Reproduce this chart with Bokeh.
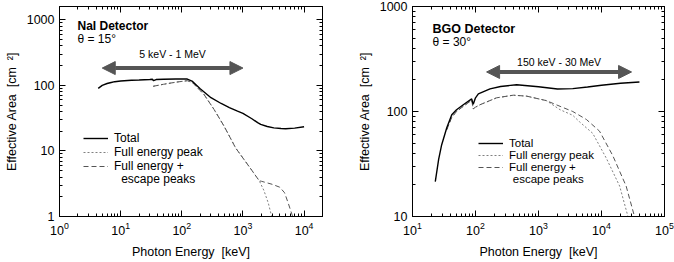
import math
from bokeh.plotting import figure
from bokeh.models import (LogAxis, FixedTicker, CustomJSTickFormatter, LogTickFormatter, Label,
                          Legend, LegendItem, Arrow, NormalHead, Range1d)
from bokeh.layouts import row
from bokeh.embed import file_html
from bokeh.resources import INLINE

FONT = "Liberation Sans"

# ---------------- NaI detector (theta = 15 deg) ----------------
nai_total_E = [4.3, 5, 6, 7, 8, 10, 15, 20, 30, 33, 34.5, 38, 50, 80, 123, 150, 200, 300,
               440, 600, 815, 1000, 1400, 1740, 1950, 2500, 3200, 4200, 5000, 7000, 10000]
nai_total_A = [90, 100, 107, 111, 114, 117, 120, 121, 123, 124, 118, 123, 124, 125, 125, 115,
               89, 65, 53, 46, 40.5, 37.5, 31, 27, 25.4, 23.6, 22.5, 22, 21.8, 22.3, 23.4]
nai_full_E = [34, 50, 80, 123, 150, 230, 337, 490, 760, 1000, 1350, 1850, 2200, 2600, 2950]
nai_full_A = [97, 104, 112, 118, 110, 73, 43, 24, 11.1, 7.8, 5.3, 3.5, 2.5, 1.6, 1.0]
nai_esc_E = [34, 50, 80, 123, 150, 230, 337, 490, 760, 1000, 1350, 1850, 2000, 3000, 4000,
             4800, 5500, 6500]
nai_esc_A = [97, 104, 112, 118, 110, 73, 43, 24, 11.1, 7.8, 5.3, 3.5, 3.45, 3.1, 2.8, 2.3,
             1.6, 1.0]
nai_range_E = [5, 1000]          # "5 keV - 1 MeV"
nai_range_label = "5 keV - 1 MeV"

# ---------------- BGO detector (theta = 30 deg) ----------------
bgo_total_E = [23, 26, 29, 35, 42, 50, 64, 87, 92, 100, 111, 170, 250, 450, 1000, 2000,
               3500, 6000, 10000, 20000, 40000]
bgo_total_A = [21.5, 35, 48, 70, 93, 104, 116, 132, 117, 135, 147, 164, 173, 180, 172, 164,
               165, 171, 178, 186, 191]
bgo_esc_E = [35, 42, 50, 64, 87, 92, 100, 118, 216, 398, 650, 1330, 2200, 3500, 5750, 9300,
             15100, 24600, 33400]
bgo_esc_A = [67, 88, 100, 112, 128, 106, 110, 116, 135, 143, 140, 127, 112, 100, 84, 65, 38,
             19.5, 10]
bgo_full_E = [35, 42, 50, 64, 87, 92, 100, 118, 216, 398, 650, 1330, 2200, 3500, 4450, 7250,
              11900, 19400, 26300]
bgo_full_A = [67, 88, 100, 112, 128, 106, 110, 116, 135, 143, 140, 127, 104, 92, 80, 62, 36,
              19.5, 10]
bgo_range_E = [150, 30000]       # "150 keV - 30 MeV"
bgo_range_label = "150 keV - 30 MeV"

legend_labels = ["Total", "Full energy peak", "Full energy +"]
legend_extra = "escape peaks"
x_label = "Photon Energy\u00a0 [keV]"
y_label = "Effective Area\u00a0 [cm\u00a0 \u00b2]"

INT_JS = "return String(Math.round(tick));"
BLANK_JS = 'return "";'


def decade_ticker(lo, hi):
    majors = [10.0 ** e for e in range(lo, hi + 1)]
    minors = [m * 10.0 ** e for e in range(lo, hi + 1) for m in range(2, 10)]
    return FixedTicker(ticks=majors, minor_ticks=minors)


def style_axis(ax, ticker, formatter, label=None, labels=True):
    ax.ticker = ticker
    ax.formatter = formatter
    ax.major_tick_in = 6
    ax.major_tick_out = 0
    ax.minor_tick_in = 3
    ax.minor_tick_out = 0
    ax.axis_line_color = "black"
    ax.major_tick_line_color = "black"
    ax.minor_tick_line_color = "black"
    ax.major_label_text_font = FONT
    ax.major_label_text_color = "black"
    if labels:
        ax.major_label_text_font_size = "12.5px"
        ax.major_label_standoff = 5
    else:
        ax.major_label_text_font_size = "1px"
        ax.major_label_text_alpha = 0
        ax.major_label_standoff = 0
    if label:
        ax.axis_label = label
        ax.axis_label_text_font = FONT
        ax.axis_label_text_font_size = "12.5px"
        ax.axis_label_text_font_style = "normal"
        ax.axis_label_text_color = "black"
        ax.axis_label_standoff = 5


def text(p, x, y, s, size="12px", align="left", bold=False):
    p.add_layout(Label(x=x, y=y, text=s, text_font=FONT, text_font_size=size,
                       text_font_style="bold" if bold else "normal", text_align=align,
                       text_baseline="middle", text_color="black"))


def make_panel(width, height, xr, yr, xdec, ydec, borders, total, full, esc,
               title, theta, range_E, range_A, range_label, range_label_A, range_fs,
               title_xy, theta_A, legend_loc, legend_fs, extra_xy, title_fs):
    bl, br, bt, bb = borders
    p = figure(width=width, height=height, x_axis_type="log", y_axis_type="log",
               x_range=Range1d(*xr), y_range=Range1d(*yr),
               min_border_left=bl, min_border_right=br, min_border_top=bt,
               min_border_bottom=bb, output_backend="svg", toolbar_location=None)
    p.xgrid.visible = False
    p.ygrid.visible = False
    p.outline_line_color = "black"
    p.background_fill_color = "white"
    p.border_fill_color = "white"

    style_axis(p.xaxis[0], decade_ticker(*xdec), LogTickFormatter(), label=x_label)
    p.xaxis[0].major_label_standoff = 5
    p.xaxis[0].axis_label_standoff = 7
    style_axis(p.yaxis[0], decade_ticker(*ydec), CustomJSTickFormatter(code=INT_JS),
               label=y_label)
    top = LogAxis()
    style_axis(top, decade_ticker(*xdec), CustomJSTickFormatter(code=BLANK_JS), labels=False)
    p.add_layout(top, "above")
    right = LogAxis()
    style_axis(right, decade_ticker(*ydec), CustomJSTickFormatter(code=BLANK_JS), labels=False)
    p.add_layout(right, "right")

    r_f = p.line(full[0], full[1], line_color="#808080", line_width=1, line_dash="2 2")
    r_e = p.line(esc[0], esc[1], line_color="#555555", line_width=1, line_dash="5 3")
    r_t = p.line(total[0], total[1], line_color="black", line_width=1.4)

    legend = Legend(items=[LegendItem(label=legend_labels[0], renderers=[r_t]),
                           LegendItem(label=legend_labels[1], renderers=[r_f]),
                           LegendItem(label=legend_labels[2], renderers=[r_e])],
                    location=legend_loc, orientation="vertical",
                    glyph_width=25, glyph_height=12, label_height=12, label_standoff=6,
                    spacing=0, padding=0, margin=0, border_line_color=None,
                    background_fill_alpha=0, label_text_font=FONT,
                    label_text_font_size=legend_fs, label_text_color="black")
    p.add_layout(legend)
    text(p, extra_xy[0], extra_xy[1], legend_extra, size=legend_fs)

    text(p, title_xy[0], title_xy[1], title, size=title_fs, bold=True)
    text(p, title_xy[0], theta_A, theta, size="12px")

    arrow_color = "#555555"
    p.add_layout(Arrow(start=NormalHead(size=13, fill_color=arrow_color, line_color=arrow_color),
                       end=NormalHead(size=13, fill_color=arrow_color, line_color=arrow_color),
                       x_start=range_E[0], y_start=range_A, x_end=range_E[1], y_end=range_A,
                       line_width=4, line_color=arrow_color))
    text(p, math.sqrt(range_E[0] * range_E[1]), range_label_A, range_label, size=range_fs,
         align="center")
    return p


p1 = make_panel(340, 262, (1, 20000), (1, 1600), (0, 4), (0, 3), (59, 18, 2, 46),
                (nai_total_E, nai_total_A), (nai_full_E, nai_full_A), (nai_esc_E, nai_esc_A),
                "NaI Detector", "\u03b8 = 15\u00b0", nai_range_E, 184, nai_range_label, 297,
                "10.5px", (1.97, 795), 504, (24, 43), "12px", (10.2, 3.67), "12px")

p2 = make_panel(334, 262, (10, 100000), (10, 1000), (1, 5), (1, 3), (72, 10, 6, 46),
                (bgo_total_E, bgo_total_A), (bgo_full_E, bgo_full_A), (bgo_esc_E, bgo_esc_A),
                "BGO Detector", "\u03b8 = 30\u00b0", bgo_range_E, 238, bgo_range_label, 297,
                "10.5px", (20.8, 610), 459, (66, 43), "11.5px", (391, 23), "12.5px")

layout = row(p1, p2)
with open("out.html", "w", encoding="utf-8") as f:
    f.write(file_html(layout, INLINE))
